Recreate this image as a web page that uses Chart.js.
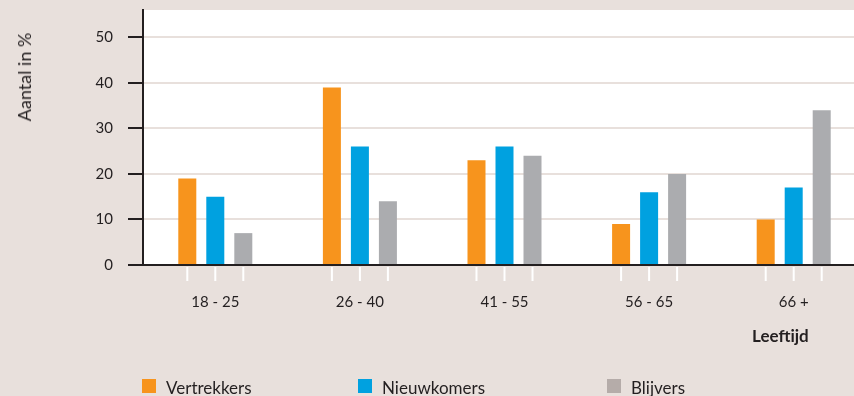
<!DOCTYPE html>
<html>
<head>
<meta charset="utf-8">
<script src="https://cdn.jsdelivr.net/npm/chart.js@4.4.0/dist/chart.umd.min.js"></script>
<style>
  body { margin: 0; width: 854px; height: 396px; overflow: hidden; position: relative;
         background: #e8e0dc; font-family: Lato, sans-serif; color: #231f20; }
  #wrap { position: absolute; left: 0; top: 0; width: 866px; height: 396px; }
  .ytitle { position: absolute; left: 24px; top: 77px; font-size: 18px; white-space: nowrap;
            transform: translate(-50%, -50%) rotate(-90deg); }
  .xtitle { position: absolute; left: 752px; top: 325px; font-size: 17px; font-weight: bold; }
  .item { position: absolute; top: 379px; height: 14px; }
  .item .box { position: absolute; left: 0; top: 0; width: 14px; height: 14px; }
  .item .lbl { position: absolute; left: 24px; top: -2px; font-size: 17px; white-space: nowrap; }
</style>
</head>
<body>
<div id="wrap"><canvas id="chart" width="866" height="396"></canvas></div>
<div class="ytitle">Aantal in %</div>
<div class="xtitle">Leeftijd</div>
<div id="legend"></div>
<script>
const categories = ['18 - 25', '26 - 40', '41 - 55', '56 - 65', '66 +'];
const vertrekkers = [19, 39, 23, 9, 10];
const nieuwkomers = [15, 26, 26, 16, 17];
const blijvers = [7, 14, 24, 20, 34];
const yTicks = [0, 10, 20, 30, 40, 50];
const seriesNames = ['Vertrekkers', 'Nieuwkomers', 'Blijvers'];

const barColors = ['#f7941d', '#00a1e0', '#abacaf'];
const legendColors = ['#f7941d', '#00a1e0', '#b5aca9'];
const legendLeft = [142, 358, 607];
const ink = '#231f20';

Chart.defaults.font.family = 'Lato, sans-serif';
Chart.defaults.color = ink;

// white plot area
const plotBg = {
    id: 'plotBg',
    beforeDraw(chart) {
        const a = chart.chartArea, ctx = chart.ctx;
        ctx.save();
        ctx.fillStyle = '#ffffff';
        ctx.fillRect(a.left, a.top, a.right - a.left, a.bottom - a.top);
        ctx.restore();
    }
};

// small white marks under every bar
const barTicks = {
    id: 'barTicks',
    afterDraw(chart) {
        const ctx = chart.ctx, b = chart.chartArea.bottom;
        ctx.save();
        ctx.strokeStyle = '#ffffff';
        ctx.lineWidth = 2;
        chart.data.datasets.forEach((ds, i) => {
            chart.getDatasetMeta(i).data.forEach(bar => {
                ctx.beginPath();
                ctx.moveTo(bar.x, b + 2);
                ctx.lineTo(bar.x, b + 16);
                ctx.stroke();
            });
        });
        ctx.restore();
    }
};

const values = [vertrekkers, nieuwkomers, blijvers];

new Chart(document.getElementById('chart'), {
    type: 'bar',
    data: {
        labels: categories,
        datasets: seriesNames.map((name, i) => ({
            label: name,
            data: values[i],
            backgroundColor: barColors[i],
            categoryPercentage: 0.581,
            barPercentage: 0.643
        }))
    },
    options: {
        responsive: false,
        animation: false,
        layout: { padding: { top: 10, left: 0, right: 0, bottom: 0 } },
        plugins: { legend: { display: false }, tooltip: { enabled: false } },
        scales: {
            x: {
                z: 1,
                grid: { display: false, drawTicks: false },
                border: { display: true, color: ink, width: 2 },
                ticks: { padding: 28, font: { size: 15 }, color: ink },
                afterFit: s => { s.height = 131; s.paddingLeft = 0; s.paddingRight = 0; }
            },
            y: {
                min: 0,
                max: 56,
                afterBuildTicks: s => { s.ticks = yTicks.map(v => ({ value: v })); },
                grid: { color: '#e8e0dc', lineWidth: 2, tickLength: 15, tickColor: ink, tickWidth: 2 },
                border: { display: true, color: ink, width: 2 },
                ticks: { padding: 15, font: { size: 15 }, color: ink },
                afterFit: s => { s.width = 143; s.paddingTop = 0; s.paddingBottom = 0; }
            }
        }
    },
    plugins: [plotBg, barTicks]
});

const legend = document.getElementById('legend');
seriesNames.forEach((name, i) => {
    const item = document.createElement('div');
    item.className = 'item';
    item.style.left = legendLeft[i] + 'px';
    item.innerHTML = '<span class="box" style="background:' + legendColors[i] + '"></span><span class="lbl">' + name + '</span>';
    legend.appendChild(item);
});
</script>
</body>
</html>
